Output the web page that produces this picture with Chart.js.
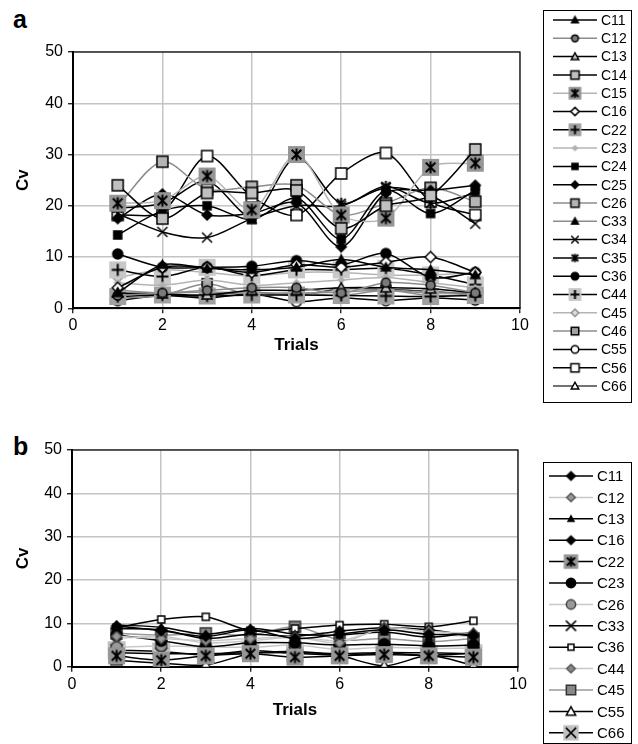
<!DOCTYPE html>
<html>
<head>
<meta charset="utf-8">
<script src="https://cdn.jsdelivr.net/npm/chart.js@4.4.1/dist/chart.umd.min.js"></script>
<style>
  body { margin: 0; background: #fff; }
  #wrap { position: relative; width: 638px; height: 744px; overflow: hidden; font-family: Arial, "Liberation Sans", sans-serif; }
  .panel { position: absolute; left: 0; width: 638px; }
  .tag { position: absolute; left: 13px; font-weight: bold; font-size: 25px; line-height: 25px; }
</style>
</head>
<body>
<div id="wrap">
  <div class="tag" style="top:7px">a</div>
  <div class="tag" style="top:434px">b</div>
  <div class="panel" style="top:0;height:430px"><canvas id="chartA" width="638" height="430"></canvas></div>
  <div class="panel" style="top:430px;height:314px"><canvas id="chartB" width="638" height="314"></canvas></div>
</div>
<script>
// x positions (trials) and axis ticks
const trials = [1, 2, 3, 4, 5, 6, 7, 8, 9];
const xTicks = [0, 2, 4, 6, 8, 10];
const yTicks = [0, 10, 20, 30, 40, 50];

// panel a: Cv per trial
const aC11 = [3.0, 8.5, 7.8, 7.5, 8.0, 9.5, 8.0, 7.5, 6.5];
const aC12 = [2.5, 3.0, 3.5, 4.0, 4.0, 3.0, 5.0, 4.5, 3.0];
const aC13 = [3.0, 2.8, 2.6, 3.5, 3.5, 4.0, 4.0, 3.8, 3.0];
const aC14 = [24.0, 17.5, 22.5, 22.5, 23.0, 15.6, 20.0, 22.0, 31.0];
const aC15 = [20.5, 21.0, 25.8, 19.2, 30.0, 18.2, 17.6, 27.5, 28.3];
const aC16 = [4.0, 8.0, 8.0, 7.0, 8.5, 8.0, 9.0, 10.0, 7.0];
const aC22 = [2.3, 2.6, 2.4, 2.6, 2.6, 2.5, 2.4, 2.3, 2.5];
const aC23 = [5.0, 4.5, 5.5, 4.5, 5.0, 5.5, 6.0, 5.0, 4.0];
const aC24 = [14.3, 19.0, 20.0, 17.3, 21.5, 13.5, 23.0, 18.5, 23.0];
const aC25 = [17.5, 22.3, 18.2, 18.5, 20.5, 12.0, 22.5, 23.0, 24.0];
const aC26 = [20.0, 28.6, 23.2, 23.7, 24.0, 18.2, 20.5, 23.5, 20.8];
const aC33 = [3.5, 3.0, 3.2, 3.0, 3.0, 3.2, 3.5, 3.0, 3.0];
const aC34 = [18.5, 14.9, 13.8, 17.5, 20.0, 20.0, 23.5, 22.0, 16.5];
const aC35 = [19.5, 20.5, 24.8, 18.0, 29.5, 20.5, 23.8, 20.5, 22.5];
const aC36 = [10.6, 8.0, 8.0, 8.2, 9.3, 8.5, 10.7, 6.0, 7.0];
const aC44 = [7.5, 6.2, 8.0, 6.4, 7.5, 7.5, 7.8, 6.5, 4.6];
const aC45 = [6.0, 7.5, 7.0, 6.3, 7.0, 7.0, 6.5, 6.5, 7.0];
const aC46 = [2.0, 2.5, 4.8, 2.5, 3.0, 2.5, 3.5, 2.5, 2.8];
const aC55 = [1.5, 2.5, 2.0, 2.8, 1.3, 2.0, 1.5, 2.0, 1.6];
const aC56 = [18.2, 18.8, 29.7, 21.8, 18.2, 26.3, 30.3, 20.8, 18.2];
const aC66 = [2.8, 2.5, 2.5, 3.2, 2.5, 3.8, 3.7, 3.3, 2.8];

// panel b: Cv per trial
const bC11 = [9.4, 8.3, 7.0, 8.5, 6.5, 7.5, 8.5, 7.5, 7.4];
const bC12 = [7.0, 6.5, 6.0, 6.5, 6.8, 5.5, 8.9, 8.1, 7.7];
const bC13 = [9.6, 9.1, 7.5, 8.9, 7.5, 7.3, 8.0, 6.8, 8.0];
const bC16 = [8.8, 8.5, 6.5, 7.5, 7.0, 8.2, 9.0, 8.5, 7.0];
const bC22 = [2.5, 1.5, 2.5, 3.0, 2.2, 2.5, 2.8, 2.5, 2.2];
const bC23 = [7.3, 6.0, 4.6, 5.5, 5.5, 5.0, 5.2, 4.8, 5.0];
const bC26 = [4.5, 4.8, 4.6, 4.5, 5.0, 4.0, 4.5, 4.2, 4.3];
const bC33 = [3.2, 3.0, 3.0, 3.2, 3.3, 3.0, 3.3, 3.2, 3.0];
const bC36 = [9.0, 10.9, 11.5, 8.3, 8.8, 9.6, 9.8, 9.2, 10.6];
const bC44 = [6.5, 7.0, 5.5, 6.0, 6.8, 6.0, 8.5, 7.5, 7.0];
const bC45 = [7.7, 7.3, 7.7, 7.3, 9.2, 6.2, 6.5, 5.8, 6.5];
const bC55 = [1.5, 0.8, 0.4, 3.0, 3.5, 2.5, 0.2, 2.5, 0.3];
const bC66 = [3.8, 3.5, 2.7, 3.7, 3.1, 2.7, 3.1, 2.7, 3.1];

const FONT = 'Arial, "Liberation Sans", sans-serif';
const K = '#000000', G = '#8c8c8c', LG = '#b4b4b4', VLG = '#c8c8c8';

// marker pictures drawn on small canvases, used as pointStyle
function makeMarker(m, k) {
  const s = m.size * k, bs = (m.bg ? m.bgSize : 0) * k;
  const dim = Math.ceil(Math.max(s, bs) + 4);
  const c = document.createElement('canvas');
  c.width = c.height = dim;
  const g = c.getContext('2d');
  const cx = dim / 2, r = s / 2;
  if (m.bg) { g.fillStyle = m.bg; g.fillRect(cx - bs / 2, cx - bs / 2, bs, bs); }
  g.lineWidth = m.lw || 1.5;
  g.strokeStyle = m.stroke || K;
  g.fillStyle = m.fill || K;
  g.beginPath();
  switch (m.shape) {
    case 'square': g.rect(cx - r, cx - r, s, s); break;
    case 'circle': g.arc(cx, cx, r, 0, Math.PI * 2); break;
    case 'triangle':
      g.moveTo(cx, cx - r); g.lineTo(cx + r, cx + r * 0.8); g.lineTo(cx - r, cx + r * 0.8); g.closePath(); break;
    case 'diamond':
      g.moveTo(cx, cx - r); g.lineTo(cx + r, cx); g.lineTo(cx, cx + r); g.lineTo(cx - r, cx); g.closePath(); break;
    case 'x':
      g.moveTo(cx - r, cx - r); g.lineTo(cx + r, cx + r); g.moveTo(cx + r, cx - r); g.lineTo(cx - r, cx + r); break;
    case 'star':
      g.moveTo(cx - r * 0.8, cx - r * 0.8); g.lineTo(cx + r * 0.8, cx + r * 0.8);
      g.moveTo(cx + r * 0.8, cx - r * 0.8); g.lineTo(cx - r * 0.8, cx + r * 0.8);
      g.moveTo(cx, cx - r); g.lineTo(cx, cx + r); break;
    case 'plus':
      g.moveTo(cx - r, cx); g.lineTo(cx + r, cx); g.moveTo(cx, cx - r); g.lineTo(cx, cx + r); break;
  }
  if (['square', 'circle', 'triangle', 'diamond'].includes(m.shape)) g.fill();
  g.stroke();
  return c;
}

const seriesA = [
  ['C11', aC11, K,  { shape: 'triangle', size: 9 }],
  ['C12', aC12, G,  { shape: 'circle', size: 9, fill: '#7a7a7a' }],
  ['C13', aC13, K,  { shape: 'triangle', size: 10, fill: '#c0c0c0' }],
  ['C14', aC14, K,  { shape: 'square', size: 11, fill: '#c0c0c0' }],
  ['C15', aC15, LG, { shape: 'star', size: 12, bg: '#969696', bgSize: 17, lw: 2 }],
  ['C16', aC16, K,  { shape: 'diamond', size: 11, fill: '#ffffff' }],
  ['C22', aC22, K,  { shape: 'plus', size: 12, bg: '#a0a0a0', bgSize: 17, lw: 2 }],
  ['C23', aC23, LG, { shape: 'diamond', size: 6, fill: '#b0b0b0', stroke: '#b0b0b0' }],
  ['C24', aC24, K,  { shape: 'square', size: 8 }],
  ['C25', aC25, K,  { shape: 'diamond', size: 10 }],
  ['C26', aC26, G,  { shape: 'square', size: 11, fill: '#b4b4b4' }],
  ['C33', aC33, G,  { shape: 'triangle', size: 9 }],
  ['C34', aC34, K,  { shape: 'x', size: 10 }],
  ['C35', aC35, K,  { shape: 'star', size: 11, lw: 2 }],
  ['C36', aC36, K,  { shape: 'circle', size: 10 }],
  ['C44', aC44, K,  { shape: 'plus', size: 12, bg: '#c8c8c8', bgSize: 17, lw: 2 }],
  ['C45', aC45, LG, { shape: 'diamond', size: 10, fill: '#dcdcdc', stroke: '#909090' }],
  ['C46', aC46, G,  { shape: 'square', size: 10, fill: '#a0a0a0' }],
  ['C55', aC55, K,  { shape: 'circle', size: 10, fill: '#ffffff' }],
  ['C56', aC56, K,  { shape: 'square', size: 11, fill: '#ffffff' }],
  ['C66', aC66, '#444444', { shape: 'triangle', size: 10, fill: '#ffffff' }]
];

const seriesB = [
  ['C11', bC11, K,   { shape: 'diamond', size: 10 }],
  ['C12', bC12, VLG, { shape: 'diamond', size: 10, fill: '#999999', stroke: '#555555' }],
  ['C13', bC13, K,   { shape: 'triangle', size: 7 }],
  ['C16', bC16, K,   { shape: 'diamond', size: 10 }],
  ['C22', bC22, K,   { shape: 'star', size: 12, bg: '#969696', bgSize: 17, lw: 2 }],
  ['C23', bC23, K,   { shape: 'circle', size: 11 }],
  ['C26', bC26, VLG, { shape: 'circle', size: 11, fill: '#999999', stroke: '#444444' }],
  ['C33', bC33, K,   { shape: 'x', size: 12 }],
  ['C36', bC36, K,   { shape: 'square', size: 7, fill: '#ffffff' }],
  ['C44', bC44, VLG, { shape: 'diamond', size: 10, fill: '#888888', stroke: '#555555' }],
  ['C45', bC45, '#999999', { shape: 'square', size: 11, fill: '#888888', stroke: '#333333' }],
  ['C55', bC55, K,   { shape: 'triangle', size: 11, fill: '#ffffff' }],
  ['C66', bC66, K,   { shape: 'x', size: 12, bg: '#c0c0c0', bgSize: 18 }]
];

function toDatasets(series) {
  return series.map(([name, vals, color, mk]) => ({
    label: name,
    data: trials.map((t, i) => ({ x: t, y: vals[i] })),
    borderColor: color,
    borderWidth: 1.5,
    tension: 0.3,
    pointStyle: makeMarker(mk, 1),
    pointRadius: 6,
    legendMarker: mk
  }));
}

// black frame around the plot area
const frame = {
  id: 'frame',
  beforeDatasetsDraw(chart) {
    const { ctx, chartArea: a } = chart;
    ctx.save();
    ctx.strokeStyle = '#000';
    ctx.lineWidth = 1.2;
    ctx.strokeRect(a.left, a.top, a.right - a.left, a.bottom - a.top);
    ctx.restore();
  }
};

// legend on the right: line, marker, label, inside a box
const sideLegend = {
  id: 'sideLegend',
  afterDraw(chart, args, o) {
    const ctx = chart.ctx;
    ctx.save();
    ctx.fillStyle = '#fff';
    ctx.fillRect(o.left, o.top, o.right - o.left, o.bottom - o.top);
    ctx.strokeStyle = '#000';
    ctx.lineWidth = 1;
    ctx.strokeRect(o.left + 0.5, o.top + 0.5, o.right - o.left, o.bottom - o.top);
    ctx.font = o.fontSize + 'px ' + FONT;
    ctx.textBaseline = 'middle';
    chart.data.datasets.forEach((ds, i) => {
      const y = o.firstY + i * o.rowH;
      ctx.strokeStyle = ds.borderColor;
      ctx.lineWidth = 1.5;
      ctx.beginPath();
      ctx.moveTo(o.lineX0, y);
      ctx.lineTo(o.lineX1, y);
      ctx.stroke();
      const img = makeMarker(ds.legendMarker, o.markerScale);
      ctx.drawImage(img, o.markerX - img.width / 2, y - img.height / 2);
      ctx.fillStyle = '#000';
      ctx.fillText(ds.label, o.textX, y + 1);
    });
    ctx.restore();
  }
};

function makeChart(id, series, geo) {
  return new Chart(document.getElementById(id), {
    type: 'line',
    data: { datasets: toDatasets(series) },
    plugins: [frame, sideLegend],
    options: {
      responsive: false,
      animation: false,
      events: [],
      layout: { padding: { left: 0, top: geo.top, right: geo.right, bottom: 0 } },
      plugins: {
        legend: { display: false },
        tooltip: { enabled: false },
        sideLegend: geo.legend
      },
      scales: {
        x: {
          type: 'linear', min: 0, max: 10,
          afterBuildTicks: s => { s.ticks = xTicks.map(v => ({ value: v })); },
          afterFit: s => { s.height = geo.xHeight; },
          ticks: { color: '#000', font: { family: FONT, size: 16 }, padding: 3, maxRotation: 0 },
          grid: { color: '#c4c4c4', lineWidth: 1.5, tickColor: '#000', tickLength: 5, tickWidth: 1.2 },
          border: { color: '#000', width: 2 },
          title: { display: true, text: 'Trials', color: '#000', font: { family: FONT, size: 17, weight: 'bold' },
                   padding: { top: 0, bottom: geo.xTitlePad } }
        },
        y: {
          min: 0, max: 50,
          afterBuildTicks: s => { s.ticks = yTicks.map(v => ({ value: v })); },
          afterFit: s => { s.width = geo.yWidth; },
          ticks: { color: '#000', font: { family: FONT, size: 16 }, padding: 5 },
          grid: { color: '#c4c4c4', lineWidth: 1.5, tickColor: '#000', tickLength: 5, tickWidth: 1.2 },
          border: { color: '#000', width: 2 },
          title: { display: true, text: 'Cv', color: '#000', font: { family: FONT, size: 17, weight: 'bold' },
                   padding: { top: 13, bottom: 0 } }
        }
      }
    }
  });
}

makeChart('chartA', seriesA, {
  top: 52, right: 118, xHeight: 121.7, yWidth: 73, xTitlePad: 74.8,
  legend: { left: 543, top: 10, right: 631, bottom: 402, firstY: 20, rowH: 18.3,
            lineX0: 553, lineX1: 597, markerX: 575, textX: 601, fontSize: 14, markerScale: 0.75 }
});

makeChart('chartB', seriesB, {
  top: 20, right: 120, xHeight: 77.3, yWidth: 72, xTitlePad: 23.8,
  legend: { left: 543, top: 32, right: 631, bottom: 313, firstY: 46, rowH: 21.4,
            lineX0: 549, lineX1: 593, markerX: 571, textX: 597, fontSize: 15, markerScale: 0.85 }
});
</script>
</body>
</html>
